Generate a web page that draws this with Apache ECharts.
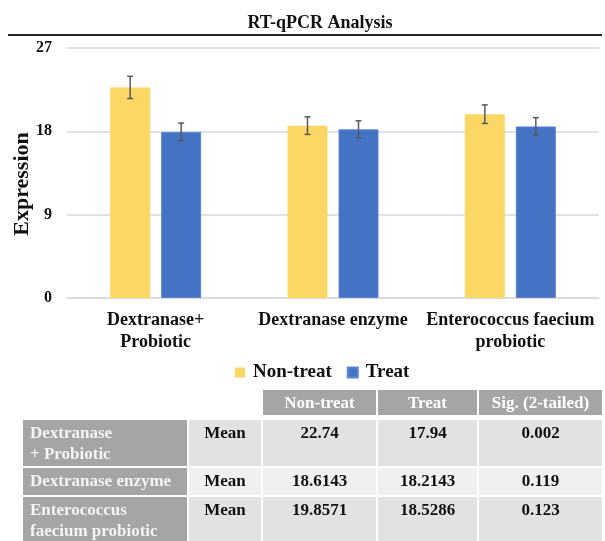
<!DOCTYPE html>
<html lang="en" style="height: 100%">
<head>
  <meta charset="utf-8">
</head>
<body style="height: 100%; margin: 0">
  <div id="container" style="width: 605px; height: 541px"></div>

  <script type="text/javascript" src="https://fastly.jsdelivr.net/npm/echarts@6/dist/echarts.min.js"></script>

  <script type="text/javascript">
    // chart data
    var categories = ['Dextranase+\nProbiotic', 'Dextranase enzyme', 'Enterococcus faecium\nprobiotic'];
    var nonTreat = [22.74, 18.6143, 19.8571];
    var treat = [17.94, 18.2143, 18.5286];
    var nonTreatErr = [1.2, 0.95, 1.0];
    var treatErr = [0.95, 0.92, 0.95];
    var yTicks = [0, 9, 18, 27];

    // table data
    var tableHeader = ['Non-treat', 'Treat', 'Sig. (2-tailed)'];
    var tableRowLabels = ['Dextranase\n+ Probiotic', 'Dextranase enzyme', 'Enterococcus\nfaecium probiotic'];
    var tableStat = ['Mean', 'Mean', 'Mean'];
    var tableSig = ['0.002', '0.119', '0.123'];

    var FONT = '"Liberation Serif", "Times New Roman", serif';
    var YELLOW = '#fbd766';
    var BLUE = '#4472c4';
    var BAR_W = 40;
    var BAR_GAP = 11;

    var dom = document.getElementById('container');
    var myChart = echarts.init(dom, null, { renderer: 'canvas' });

    function errorSeries(name, values, errs, side) {
      return {
        type: 'custom',
        name: name + ' err',
        silent: true,
        z: 5,
        data: values.map(function (v, i) { return [i, v, errs[i]]; }),
        encode: { x: 0, y: 1 },
        renderItem: function (params, api) {
          var c = api.coord([api.value(0), api.value(1)]);
          var x = c[0] + side * (BAR_W + BAR_GAP) / 2;
          var hi = api.coord([api.value(0), api.value(1) + api.value(2)])[1];
          var lo = api.coord([api.value(0), api.value(1) - api.value(2)])[1];
          var st = { stroke: '#595959', lineWidth: 1.5 };
          return {
            type: 'group',
            children: [
              { type: 'line', shape: { x1: x, y1: hi, x2: x, y2: lo }, style: st },
              { type: 'line', shape: { x1: x - 3, y1: hi, x2: x + 3, y2: hi }, style: st },
              { type: 'line', shape: { x1: x - 3, y1: lo, x2: x + 3, y2: lo }, style: st }
            ]
          };
        }
      };
    }

    // table built as graphic elements
    var colX = [22, 188, 262, 377, 478, 603];
    var rowY = [419, 467, 496, 545];
    var tableGraphics = [];
    var txt = function (x, y, text, fill, align) {
      return {
        type: 'text', x: x, y: y, silent: true,
        style: { text: text, fill: fill, font: 'bold 17px ' + FONT, align: align, verticalAlign: 'top', lineHeight: 21 }
      };
    };
    // header
    tableHeader.forEach(function (h, j) {
      tableGraphics.push({
        type: 'rect', silent: true,
        shape: { x: colX[j + 2], y: 389, width: colX[j + 3] - colX[j + 2], height: 27 },
        style: { fill: '#a5a5a5', stroke: '#ffffff', lineWidth: 2 }
      });
      tableGraphics.push(txt((colX[j + 2] + colX[j + 3]) / 2, 393, h, '#ffffff', 'center'));
    });
    tableRowLabels.forEach(function (lab, i) {
      var y0 = rowY[i], h = rowY[i + 1] - rowY[i];
      var cellFill = i === 1 ? '#f0f0f0' : '#e2e2e2';
      var row = [null, tableStat[i], String(nonTreat[i]), String(treat[i]), tableSig[i]];
      for (var j = 0; j < 5; j++) {
        tableGraphics.push({
          type: 'rect', silent: true,
          shape: { x: colX[j], y: y0, width: colX[j + 1] - colX[j], height: h },
          style: { fill: j === 0 ? '#a5a5a5' : cellFill, stroke: '#ffffff', lineWidth: 2 }
        });
      }
      tableGraphics.push(txt(30, y0 + 4, lab, '#f4f4f4', 'left'));
      for (var k = 1; k < 5; k++) {
        tableGraphics.push(txt((colX[k] + colX[k + 1]) / 2, y0 + 4, row[k], '#111111', 'center'));
      }
    });

    var option = {
      animation: false,
      backgroundColor: '#ffffff',
      title: {
        text: 'RT-qPCR Analysis',
        left: 315,
        textAlign: 'center',
        top: 9,
        textStyle: { fontFamily: FONT, fontWeight: 'bold', fontSize: 18, color: '#111111' }
      },
      legend: {
        left: 230,
        top: 358,
        itemWidth: 10,
        itemHeight: 10,
        itemGap: 15,
        icon: 'rect',
        data: ['Non-treat', 'Treat'],
        textStyle: { fontFamily: FONT, fontWeight: 'bold', fontSize: 19, color: '#111111', padding: [0, 0, 0, 3] }
      },
      grid: { left: 67, right: 6, top: 48, bottom: 243 },
      xAxis: {
        type: 'category',
        data: categories,
        axisLine: { lineStyle: { color: '#d9d9d9', width: 1.5 } },
        axisTick: { show: false },
        axisLabel: {
          interval: 0,
          margin: 11,
          fontFamily: FONT, fontWeight: 'bold', fontSize: 18, lineHeight: 22, color: '#111111'
        }
      },
      yAxis: {
        type: 'value',
        min: yTicks[0],
        max: yTicks[yTicks.length - 1],
        interval: yTicks[1] - yTicks[0],
        axisLine: { show: false },
        axisTick: { show: false },
        splitLine: { lineStyle: { color: '#d9d9d9', width: 1.5 } },
        axisLabel: { margin: 15, fontFamily: FONT, fontWeight: 'bold', fontSize: 16, color: '#111111' }
      },
      graphic: [
        {
          type: 'line', silent: true,
          shape: { x1: 8, y1: 35, x2: 602, y2: 35 },
          style: { stroke: '#222222', lineWidth: 2 }
        },
        {
          type: 'text', silent: true,
          x: 22, y: 184, rotation: Math.PI / 2,
          style: { text: 'Expression', font: 'bold 22px ' + FONT, fill: '#111111', align: 'center', verticalAlign: 'middle' }
        }
      ].concat(tableGraphics),
      series: [
        {
          name: 'Non-treat', type: 'bar', data: nonTreat, barWidth: BAR_W, barGap: (BAR_GAP / BAR_W * 100) + '%',
          itemStyle: { color: YELLOW }
        },
        {
          name: 'Treat', type: 'bar', data: treat, barWidth: BAR_W,
          itemStyle: { color: BLUE, borderColor: '#5a86d0', borderWidth: 1 }
        },
        errorSeries('Non-treat', nonTreat, nonTreatErr, -1),
        errorSeries('Treat', treat, treatErr, 1)
      ]
    };

    myChart.setOption(option);
    window.addEventListener('resize', myChart.resize);
  </script>
</body>
</html>
